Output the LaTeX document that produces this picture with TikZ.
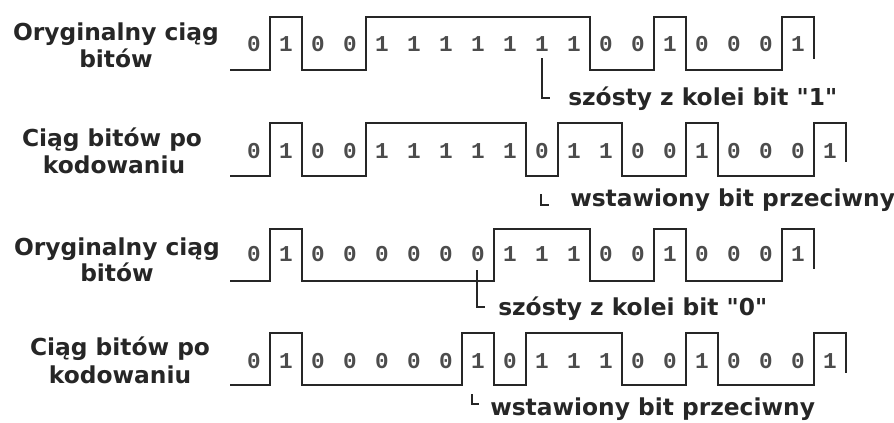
\documentclass[tikz,border=0pt]{standalone}
\usepackage{fontspec}
\setmainfont{DejaVu Sans}
\newfontfamily\labfont{DejaVu Sans}[BoldFont={DejaVu Sans Bold}]
\newfontfamily\digfont{Liberation Mono}[BoldFont={Liberation Mono Bold}]
\tikzset{
  lab/.style={font=\labfont\bfseries\fontsize{17.5}{20}\selectfont, inner sep=0pt, anchor=base, text=black!85},
  notetext/.style={font=\labfont\bfseries\fontsize{17.5}{20}\selectfont, inner sep=0pt, anchor=base west, text=black!85},
  digit/.style={font=\digfont\bfseries\fontsize{17}{18}\selectfont, inner sep=0pt, anchor=base, text=black!70},
  wave/.style={line width=1.1pt, line join=miter, draw=black!85},
  pointer/.style={line width=1.1pt, draw=black!85},
  lmark/.style={line width=1.4pt, draw=black!85}
}
\begin{document}
\begin{tikzpicture}[x=0.75pt, y=-0.75pt]
\useasboundingbox (0,0) rectangle (894,422);

% ---- left labels ----
\node[lab] (l1a) at (116,40) {Oryginalny ciąg};
\node[lab] (l1b) at (116,67) {bitów};
\node[lab] (l2a) at (112,146) {Ciąg bitów po};
\node[lab] (l2b) at (114,173) {kodowaniu};
\node[lab] (l3a) at (117,255) {Oryginalny ciąg};
\node[lab] (l3b) at (117,281) {bitów};
\node[lab] (l4a) at (120,355) {Ciąg bitów po};
\node[lab] (l4b) at (120,383) {kodowaniu};

% ---- row 1 ----
\draw[wave] (230,70) -- (270,70) -- (270,17) -- (302,17) -- (302,70) -- (366,70) -- (366,17)
  -- (590,17) -- (590,70) -- (654,70) -- (654,17) -- (686,17) -- (686,70) -- (782,70)
  -- (782,17) -- (814,17) -- (814,59);
\foreach \b [count=\i from 0] in {0,1,0,0,1,1,1,1,1,1,1,0,0,1,0,0,0,1}
  \node[digit] (r1d\i) at ({254+32*\i},51) {\b};

% ---- row 2 ----
\draw[wave] (230,176) -- (270,176) -- (270,123) -- (302,123) -- (302,176) -- (366,176) -- (366,123)
  -- (526,123) -- (526,176) -- (558,176) -- (558,123) -- (622,123) -- (622,176) -- (686,176)
  -- (686,123) -- (718,123) -- (718,176) -- (814,176) -- (814,123) -- (846,123) -- (846,162);
\foreach \b [count=\i from 0] in {0,1,0,0,1,1,1,1,1,0,1,1,0,0,1,0,0,0,1}
  \node[digit] (r2d\i) at ({254+32*\i},158) {\b};

% ---- row 3 ----
\draw[wave] (230,281) -- (270,281) -- (270,229) -- (302,229) -- (302,281) -- (494,281) -- (494,229)
  -- (590,229) -- (590,281) -- (654,281) -- (654,229) -- (686,229) -- (686,281) -- (782,281)
  -- (782,229) -- (814,229) -- (814,269);
\foreach \b [count=\i from 0] in {0,1,0,0,0,0,0,0,1,1,1,0,0,1,0,0,0,1}
  \node[digit] (r3d\i) at ({254+32*\i},261) {\b};

% ---- row 4 ----
\draw[wave] (230,385) -- (270,385) -- (270,333) -- (302,333) -- (302,385) -- (462,385) -- (462,333)
  -- (494,333) -- (494,385) -- (526,385) -- (526,333) -- (622,333) -- (622,385) -- (686,385)
  -- (686,333) -- (718,333) -- (718,385) -- (814,385) -- (814,333) -- (846,333) -- (846,373);
\foreach \b [count=\i from 0] in {0,1,0,0,0,0,0,1,0,1,1,1,0,0,1,0,0,0,1}
  \node[digit] (r4d\i) at ({254+32*\i},368) {\b};

% ---- annotations ----
\coordinate (p1s) at (542,58);
\coordinate (p1e) at (550,98);
\draw[pointer] (p1s) |- (p1e);
\node[notetext] (n1) at (568,105) {szósty z kolei bit "1"};

\coordinate (m2s) at (541,194);
\coordinate (m2e) at (549,205);
\draw[lmark] (m2s) |- (m2e);
\node[notetext] (n2) at (570,206) {wstawiony bit przeciwny};

\coordinate (p3s) at (477,270);
\coordinate (p3e) at (485,307);
\draw[pointer] (p3s) |- (p3e);
\node[notetext] (n3) at (498,315) {szósty z kolei bit "0"};

\coordinate (m4s) at (472,394);
\coordinate (m4e) at (479,404);
\draw[lmark] (m4s) |- (m4e);
\node[notetext] (n4) at (490,415) {wstawiony bit przeciwny};
\end{tikzpicture}
\end{document}
